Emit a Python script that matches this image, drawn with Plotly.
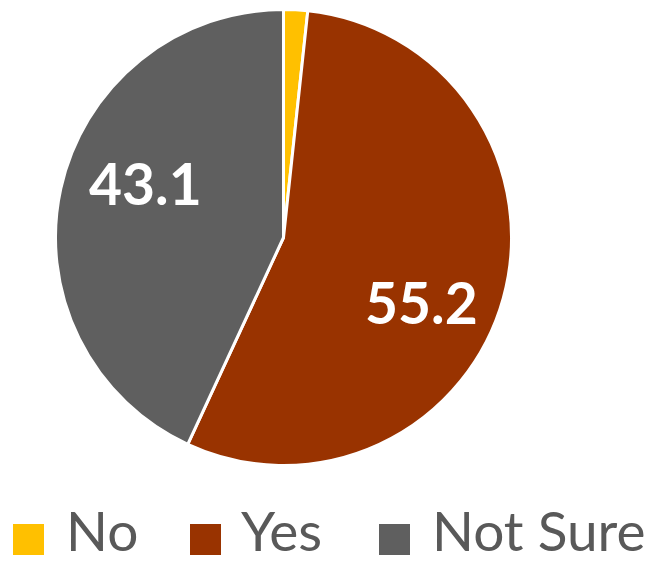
import plotly.graph_objects as go

# Survey responses (percent)
categories = ["No", "Yes", "Not Sure"]
values = [1.7, 55.2, 43.1]
colors = ["#FFC000", "#993300", "#5F5F5F"]

W, H = 662, 564

fig = go.Figure()
fig.add_trace(go.Pie(
    labels=categories,
    values=values,
    sort=False,
    direction="clockwise",
    rotation=0,
    marker=dict(colors=colors, line=dict(color="white", width=3)),
    textinfo="none",
    hoverinfo="label+value",
    showlegend=False,
    domain=dict(x=[55.5 / W, 511.5 / W], y=[1 - 465.5 / H, 1 - 9.5 / H]),
))

# Value labels on the two large slices
label_pos = {"Not Sure": (145.5, 183), "Yes": (421, 302)}
annotations = []
for cat, val in zip(categories, values):
    if cat in label_pos:
        px, py = label_pos[cat]
        annotations.append(dict(
            x=px / W, y=1 - py / H, xref="paper", yref="paper",
            text=f"<b>{val:.1f}</b>", showarrow=False,
            xanchor="center", yanchor="middle",
            font=dict(family="Lato", size=57, color="white"),
        ))

# Legend drawn as swatches + text along the bottom
legend_swatch_x = [13, 190, 379]
legend_text_x = [65, 240, 431]
shapes = []
for cat, col, sx, tx in zip(categories, colors, legend_swatch_x, legend_text_x):
    shapes.append(dict(
        type="rect", xref="paper", yref="paper",
        x0=sx / W, x1=(sx + 31) / W, y0=1 - 555 / H, y1=1 - 524 / H,
        fillcolor=col, line=dict(width=0),
    ))
    annotations.append(dict(
        x=tx / W, y=0, xref="paper", yref="paper",
        text=cat, showarrow=False, xanchor="left", yanchor="bottom",
        borderpad=0,
        font=dict(family="Lato", size=55, color="#595959"),
    ))

fig.update_layout(
    width=W, height=H,
    margin=dict(l=0, r=0, t=0, b=0),
    paper_bgcolor="white", plot_bgcolor="white",
    annotations=annotations, shapes=shapes,
)

fig.write_html("out.html")
